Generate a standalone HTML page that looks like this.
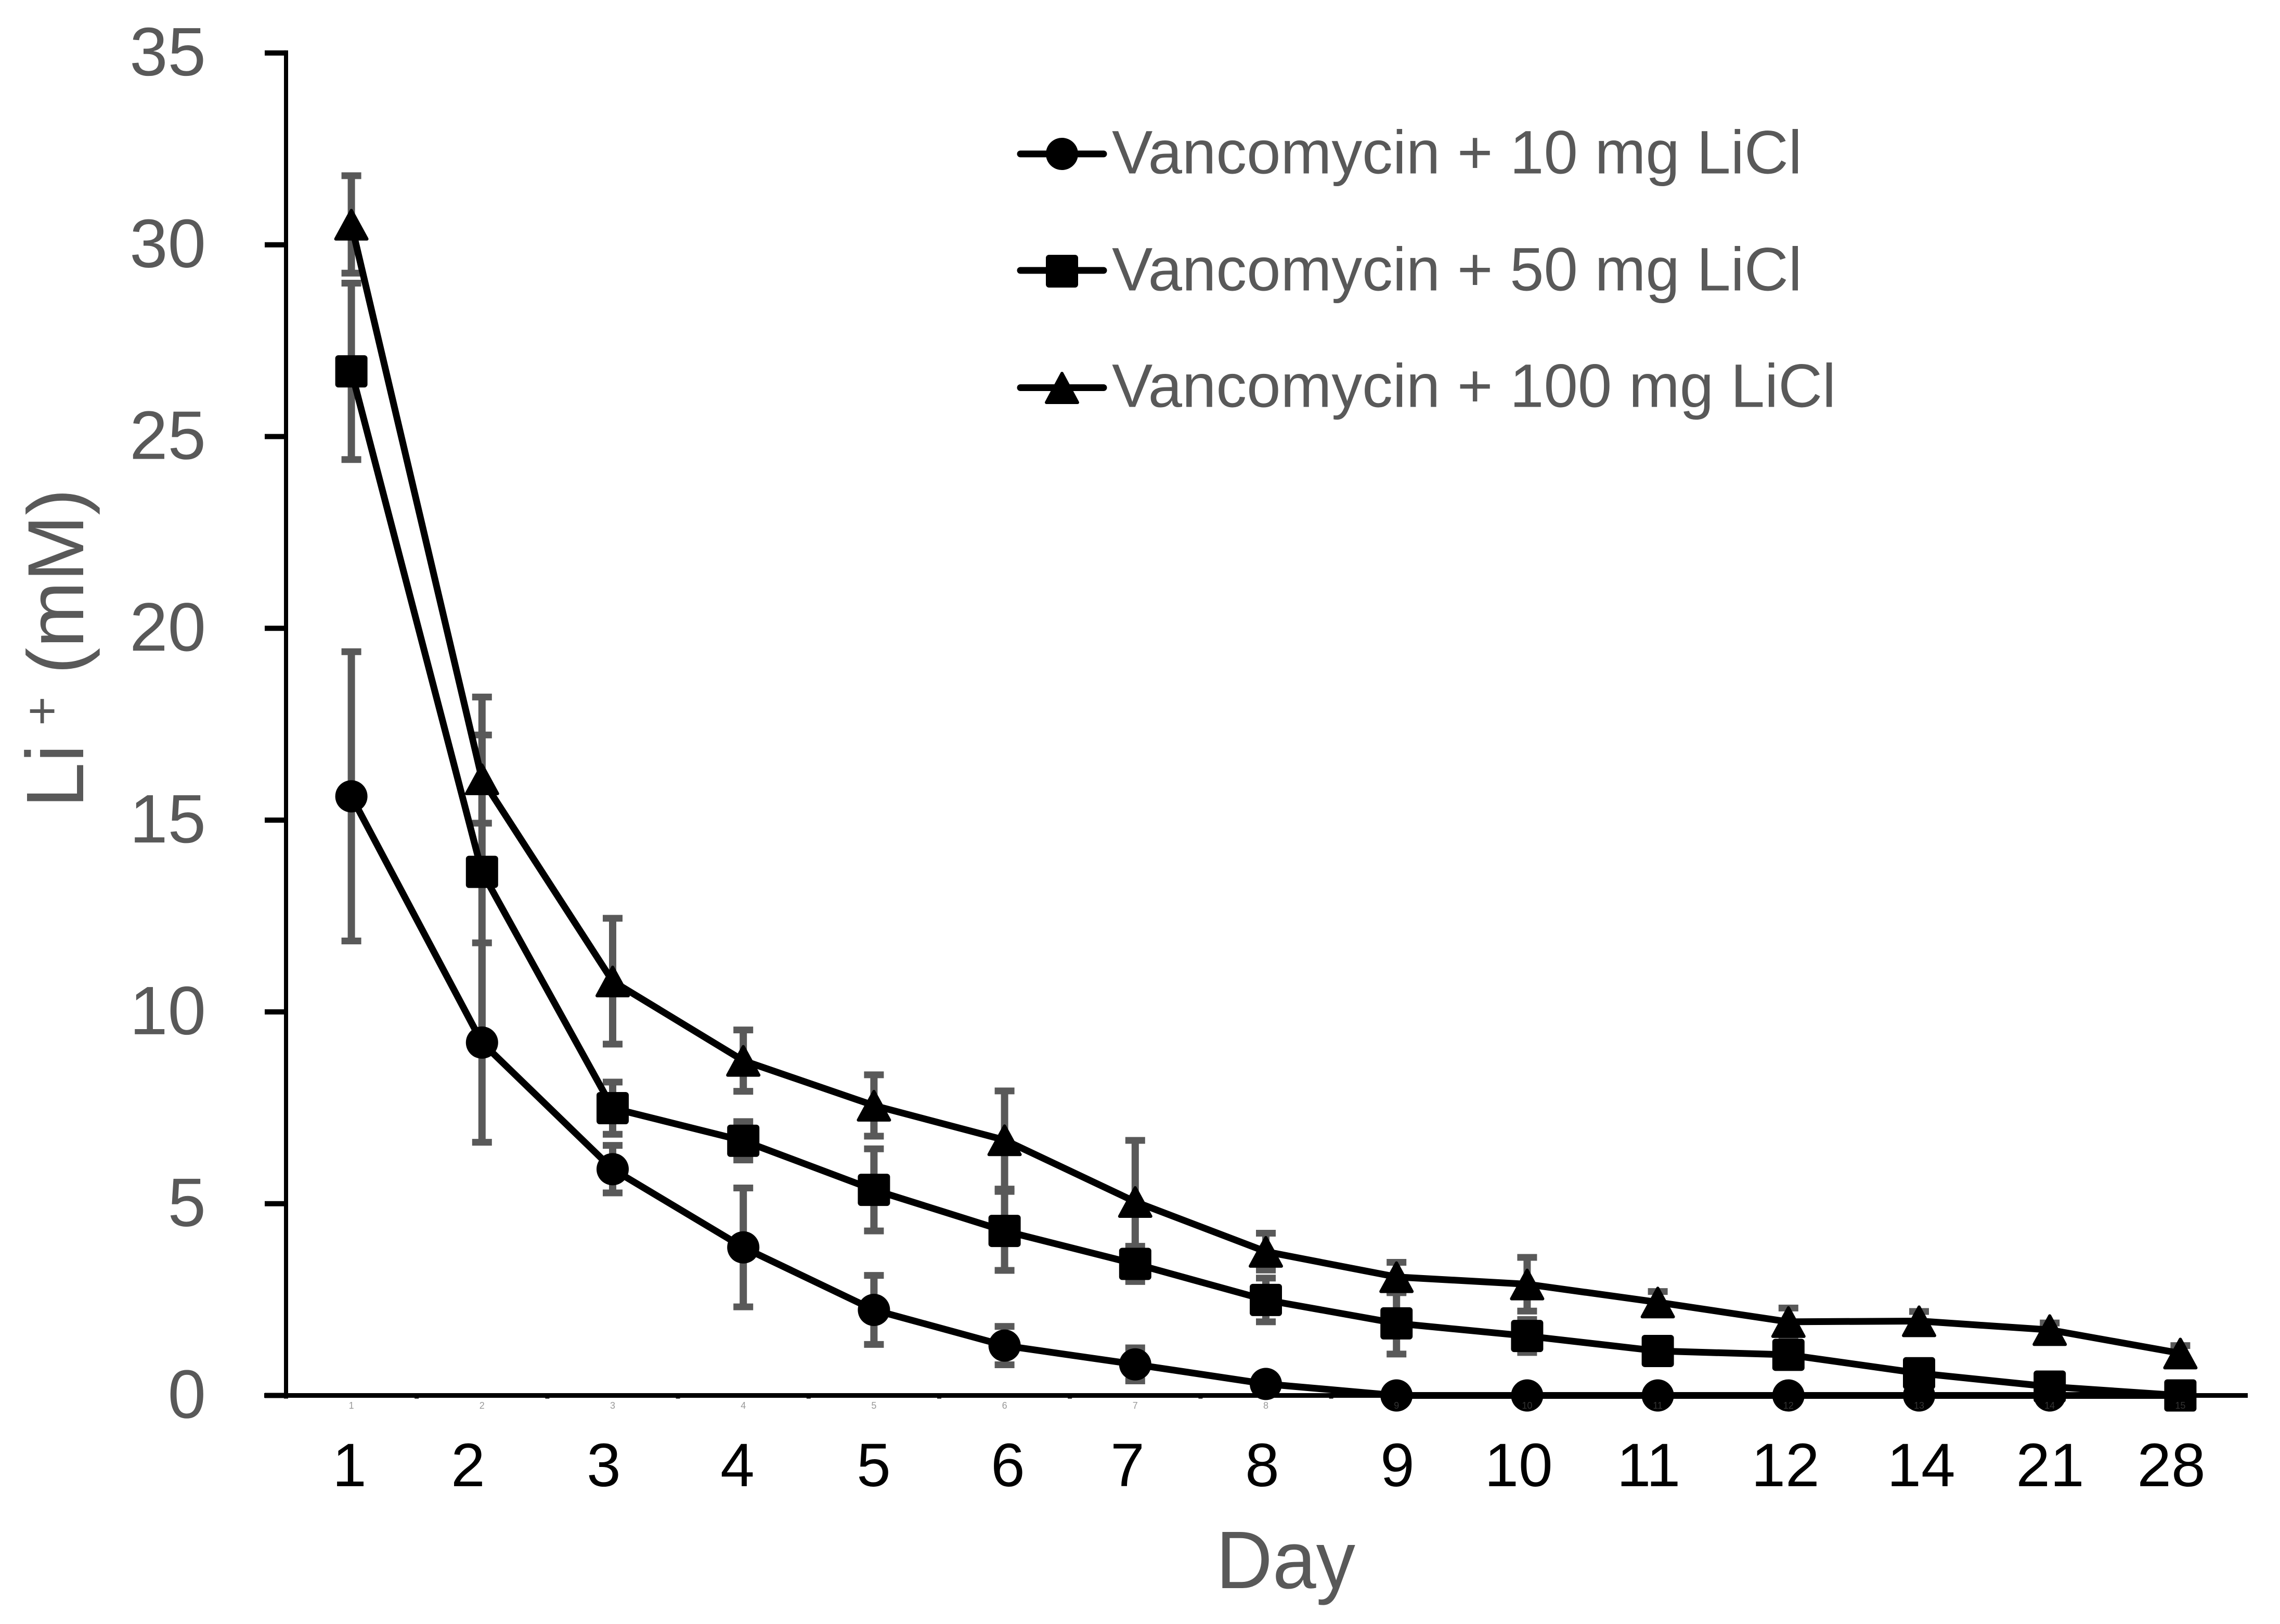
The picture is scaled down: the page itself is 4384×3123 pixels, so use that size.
<!DOCTYPE html>
<html lang="en">
<head>
<meta charset="utf-8">
<title>Li+ concentration by day</title>
<style>
html,body{margin:0;padding:0;background:#fff;}
svg{display:block;}
text{font-family:"Liberation Sans",Arial,sans-serif;}
.grey{fill:#595959;}
.day{font-size:118px;fill:#000;text-anchor:middle;}
.leg{font-size:117.5px;fill:#595959;}
</style>
</head>
<body>
<svg id="chart" xmlns="http://www.w3.org/2000/svg" width="4384" height="3123" viewBox="0 0 4384 3123">
  <rect width="4384" height="3123" fill="#fff"/>
  <g id="errors"></g>
  <g id="axes"></g>
  <g id="lines"></g>
  <g id="markers"></g>
  <g id="tiny"></g>
  <g id="ylabels"></g>

  <g>
    <text class="day" x="672" y="2858">1</text>
    <text class="day" x="900" y="2858">2</text>
    <text class="day" x="1161" y="2858">3</text>
    <text class="day" x="1418" y="2858">4</text>
    <text class="day" x="1680" y="2858">5</text>
    <text class="day" x="1938" y="2858">6</text>
    <text class="day" x="2168" y="2858">7</text>
    <text class="day" x="2427" y="2858">8</text>
    <text class="day" x="2687" y="2858">9</text>
    <text class="day" x="2920" y="2858">10</text>
    <text class="day" x="3170" y="2858">11</text>
    <text class="day" x="3433" y="2858">12</text>
    <text class="day" x="3694" y="2858">14</text>
    <text class="day" x="3942" y="2858">21</text>
    <text class="day" x="4175" y="2858">28</text>
  </g>

  <text class="grey" x="2338" y="3054" font-size="157" textLength="268" lengthAdjust="spacingAndGlyphs">Day</text>

  <g transform="translate(160,1553.5) rotate(-90)">
    <text class="grey" font-size="157" x="0" y="0">Li <tspan x="158" y="-47" font-size="96">+</tspan> <tspan x="257" y="0" font-size="153">(mM)</tspan></text>
  </g>

  <g>
    <g>
      <line x1="1962" y1="296" x2="2122" y2="296" stroke="#000" stroke-width="13" stroke-linecap="round"/>
      <circle cx="2042" cy="296" r="31" fill="#000"/>
      <text class="leg" x="2138" y="333.5">Vancomycin + 10 mg LiCl</text>
    </g>
    <g>
      <line x1="1962" y1="520" x2="2122" y2="520" stroke="#000" stroke-width="13" stroke-linecap="round"/>
      <rect x="2011" y="490" width="62" height="63" rx="6" fill="#000"/>
      <text class="leg" x="2138" y="558.5">Vancomycin + 50 mg LiCl</text>
    </g>
    <g>
      <line x1="1962" y1="745.5" x2="2122" y2="745.5" stroke="#000" stroke-width="13" stroke-linecap="round"/>
      <path d="M2042 718 L2072 774 L2012 774 Z" fill="#000" stroke="#000" stroke-width="6" stroke-linejoin="round"/>
      <text class="leg" x="2138" y="782.5">Vancomycin + 100 mg LiCl</text>
    </g>
  </g>
</svg>

<script>
const categories = ['1','2','3','4','5','6','7','8','9','10','11','12','13','14','15'];
const yTicks = [0,5,10,15,20,25,30,35];
const mean10 = [15.62,9.2,5.9,3.86,2.23,1.3,0.81,0.3,0,0,0,0,0,0,0];
const err10 = [3.77,2.6,0.62,1.55,0.9,0.5,0.43,0,0,0,0,0,0,0,0];
const mean50 = [26.7,13.65,7.49,6.64,5.36,4.29,3.43,2.49,1.88,1.55,1.16,1.06,0.58,0.23,0];
const err50 = [2.3,4.56,0.68,0.5,1.07,1.03,0.46,0.57,0.8,0.43,0,0,0,0,0];
const mean100 = [30.53,16.07,10.8,8.73,7.56,6.66,5.05,3.75,3.09,2.9,2.43,1.92,1.94,1.71,1.1];
const err100 = [1.27,1.15,1.64,0.8,0.8,1.28,1.6,0.48,0.38,0.7,0.28,0.36,0.25,0.18,0.2];

const NS = 'http://www.w3.org/2000/svg';
const AXIS_X = 550, AXIS_Y = 2683.5, SLOT = 251.2, UNIT = 73.76;
function xPos(i){ return AXIS_X + SLOT * (i + 0.5); }
function yPos(v){ return AXIS_Y - UNIT * v; }
function make(tag, parentId, attrs){
  const el = document.createElementNS(NS, tag);
  Object.keys(attrs).forEach(function(k){ el.setAttribute(k, attrs[k]); });
  document.getElementById(parentId).appendChild(el);
  return el;
}

/* axes */
const yAxis = make('line','axes',{x1:AXIS_X,y1:yPos(35)-5,x2:AXIS_X,y2:AXIS_Y,stroke:'#000','stroke-width':8});


const xAxis = make('line','axes',{x1:508,y1:AXIS_Y,x2:AXIS_X+SLOT*categories.length+4,y2:AXIS_Y,stroke:'#000','stroke-width':9});



yTicks.forEach(function(t){
  const tick = make('line','axes',{x1:509,y1:yPos(t),x2:AXIS_X,y2:yPos(t),stroke:'#000','stroke-width':10});
  
  
  const lab = make('text','ylabels',{x:396,y:yPos(t)+43,'font-size':132,'text-anchor':'end',fill:'#595959'});
  lab.textContent = String(t);
  
  
});

categories.forEach(function(c,i){
  const tick = make('line','axes',{x1:AXIS_X+SLOT*i,y1:AXIS_Y,x2:AXIS_X+SLOT*i,y2:AXIS_Y+6,stroke:'#000','stroke-width':8});
  
  
  const lab = make('text','tiny',{x:xPos(i),y:2709,'font-size':18,'text-anchor':'middle',fill:'#555','fill-opacity':0.6});
  lab.textContent = c;
  
  
});

/* series */
function drawErrors(means, errs, key){
  means.forEach(function(m,i){
    if(!(errs[i] > 0)) return;
    const x = xPos(i), hi = yPos(m + errs[i]), lo = yPos(m - errs[i]);
    const stem = make('line','errors',{x1:x,y1:hi,x2:x,y2:lo,stroke:'#595959','stroke-width':14});
    
    
    const capTop = make('line','errors',{x1:x-19,y1:hi,x2:x+19,y2:hi,stroke:'#595959','stroke-width':13});
    
    
    const capBot = make('line','errors',{x1:x-19,y1:lo,x2:x+19,y2:lo,stroke:'#595959','stroke-width':13});
    
    
  });
}
function drawLine(means, key){
  const pts = means.map(function(m,i){ return xPos(i) + ',' + yPos(m); }).join(' ');
  const line = make('polyline','lines',{points:pts,fill:'none',stroke:'#000','stroke-width':13,'stroke-linejoin':'round'});
  
  
}
function drawMarker(kind, x, y, key){
  let el;
  if(kind === 'circle'){
    el = make('circle','markers',{cx:x,cy:y,r:31,fill:'#000'});
  } else if(kind === 'square'){
    el = make('rect','markers',{x:x-31,y:y-31,width:62,height:62,rx:6,fill:'#000'});
  } else {
    el = make('path','markers',{d:'M'+x+' '+(y-27)+' L'+(x+30)+' '+(y+28)+' L'+(x-30)+' '+(y+28)+' Z',fill:'#000',stroke:'#000','stroke-width':6,'stroke-linejoin':'round'});
  }
  
  
}
function drawSeries(means, errs, kind, key){
  drawErrors(means, errs, key);
  drawLine(means, key);
  means.forEach(function(m,i){ drawMarker(kind, xPos(i), yPos(m), key); });
}
drawSeries(mean10, err10, 'circle', '10mg');
drawSeries(mean50, err50, 'square', '50mg');
drawSeries(mean100, err100, 'triangle', '100mg');
</script>
</body>
</html>
